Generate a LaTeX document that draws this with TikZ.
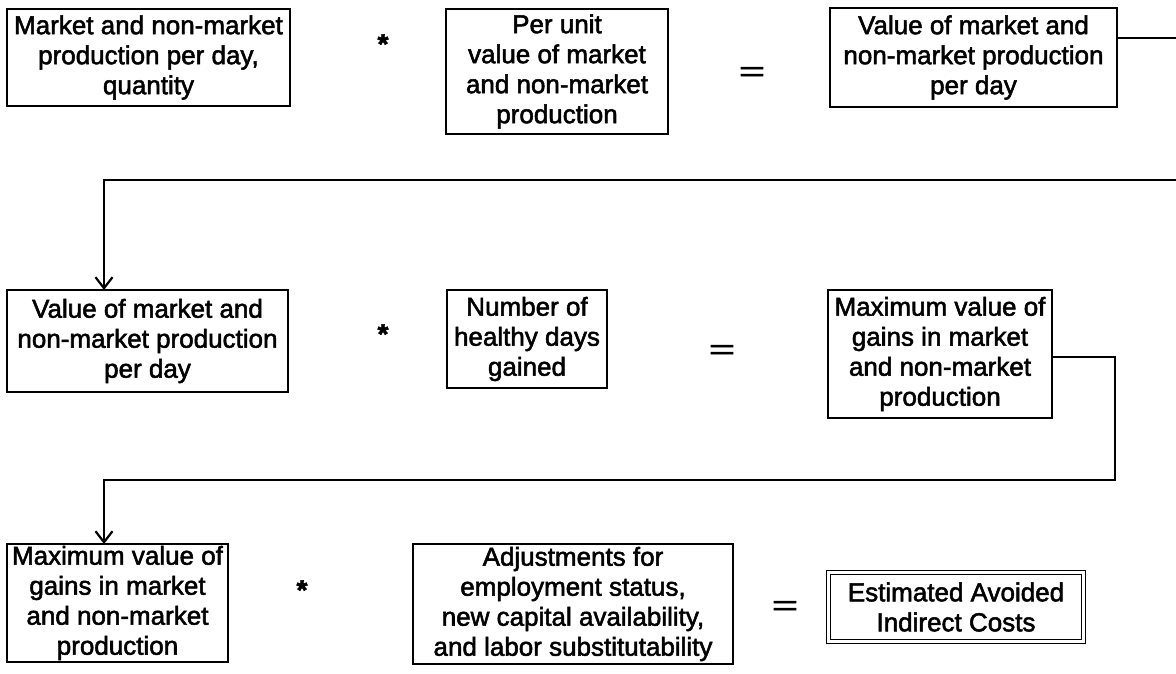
\documentclass[tikz,border=0pt]{standalone}
\usepackage{fontspec}
\setmainfont{Liberation Sans}[FakeBold=2]
\usetikzlibrary{arrows.meta}

\tikzset{
    stepbox/.style={draw,line width=1.6pt,inner sep=0pt,outer sep=0pt,align=center,
        font=\fontsize{26}{30}\selectfont},
    endbox/.style={stepbox,double,double distance=2.6pt,line width=1.3pt},
    opsign/.style={font=\fontsize{28}{28}\selectfont},
    timessign/.style={font=\fontsize{28}{28}\selectfont\bfseries},
    link/.style={line width=2.2pt},
    linkarr/.style={link,-{Straight Barb[length=11pt,width=17pt,line width=2.2pt]}}
}
\newcommand{\equalsign}{\scalebox{1.6}[1]{=}}

\begin{document}
\begin{tikzpicture}[x=1pt,y=-1pt]
    \useasboundingbox (0,0) rectangle (1176,674);

    % first row
    \node[stepbox,minimum width=283,minimum height=97] (qty) at (148.5,57.5)
        {Market and non-market\\production per day,\\quantity};
    \node[timessign] (timesA) at (383,44) {*};
    \node[stepbox,minimum width=222,minimum height=125] (unitval) at (557,71.5)
        {Per unit\\value of market\\and non-market\\production};
    \node[opsign] (eqA) at (752,74) {\equalsign};
    \node[stepbox,minimum width=287,minimum height=99] (dayval) at (973.5,57.5)
        {Value of market and\\non-market production\\per day};

    % second row
    \node[stepbox,minimum width=281,minimum height=102] (dayvalB) at (147.5,341)
        {Value of market and\\non-market production\\per day};
    \node[timessign] (timesB) at (383,334) {*};
    \node[stepbox,minimum width=160,minimum height=98] (days) at (527,339)
        {Number of\\healthy days\\gained};
    \node[opsign] (eqB) at (722,352) {\equalsign};
    \node[stepbox,minimum width=224,minimum height=128] (maxgain) at (940,354)
        {Maximum value of\\gains in market\\and non-market\\production};

    % third row
    \node[stepbox,minimum width=221,minimum height=118] (maxgainC) at (117.5,603)
        {Maximum value of\\gains in market\\and non-market\\production};
    \node[timessign] (timesC) at (302,590) {*};
    \node[stepbox,minimum width=320,minimum height=120] (adjust) at (573,604)
        {Adjustments for\\employment status,\\new capital availability,\\and labor substitutability};
    \node[opsign] (eqC) at (785,608) {\equalsign};
    \node[endbox,minimum width=255,minimum height=69] (avoided) at (956,607)
        {Estimated Avoided\\Indirect Costs};

    % connectors (the first one leaves the page on the right)
    \coordinate (edgeA) at (1176,38);
    \coordinate (edgeB) at (1176,180);
    \coordinate (dropA) at (104,180);
    \coordinate (tapB) at (1115,357);
    \coordinate (bendB) at (1115,480);
    \coordinate (dropB) at (104,480);

    \draw[link] (dayval.east |- edgeA) -- (edgeA);
    \draw[linkarr] (edgeB) -- (dropA) -- (dropA |- dayvalB.north);
    \draw[linkarr] (maxgain.east |- tapB) -- (tapB) -- (bendB) -- (dropB) -- (dropB |- maxgainC.north);
\end{tikzpicture}
\end{document}
